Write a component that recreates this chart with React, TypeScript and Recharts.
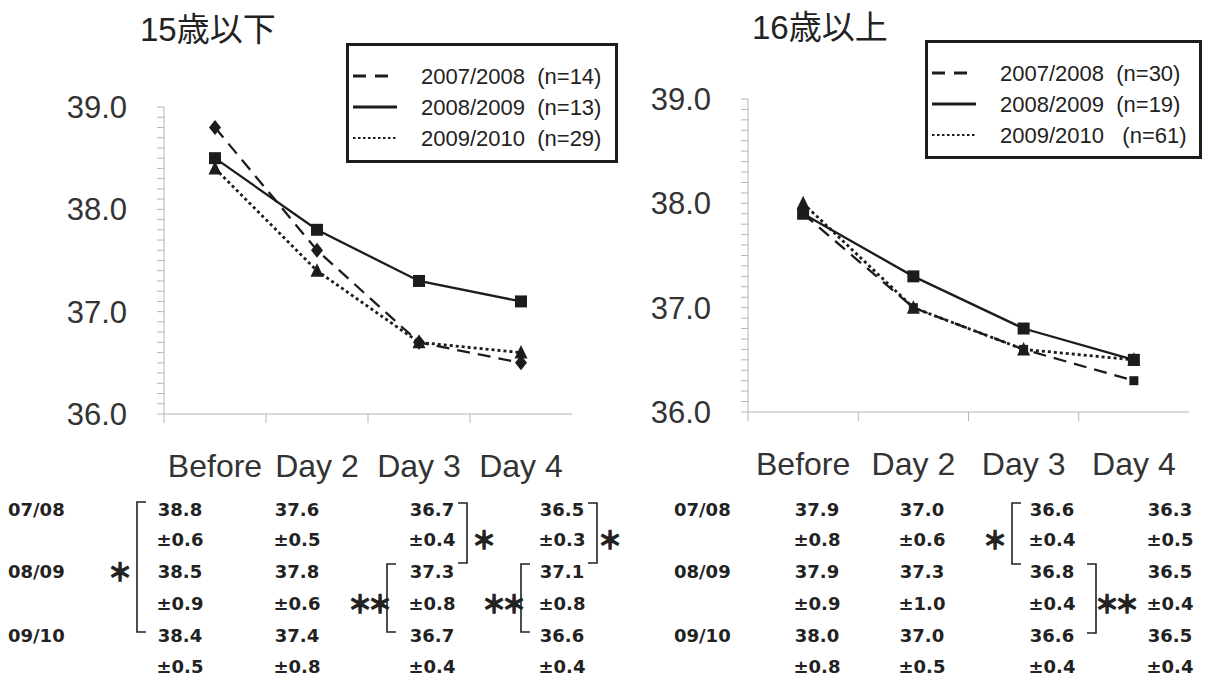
import React from 'react';
import { LineChart, Line, XAxis, YAxis } from 'recharts';

// time points on the x axis
const timepoints = ['Before', 'Day 2', 'Day 3', 'Day 4'];
const seasons = ['2007/2008', '2008/2009', '2009/2010'];
const seasonsShort = ['07/08', '08/09', '09/10'];

// 15歳以下
const under15N = [14, 13, 29];
const under15Mean0708 = [38.8, 37.6, 36.7, 36.5];
const under15Mean0809 = [38.5, 37.8, 37.3, 37.1];
const under15Mean0910 = [38.4, 37.4, 36.7, 36.6];
const under15Sd0708 = [0.6, 0.5, 0.4, 0.3];
const under15Sd0809 = [0.9, 0.6, 0.8, 0.8];
const under15Sd0910 = [0.5, 0.8, 0.4, 0.4];

// 16歳以上
const over16N = [30, 19, 61];
const over16Mean0708 = [37.9, 37.0, 36.6, 36.3];
const over16Mean0809 = [37.9, 37.3, 36.8, 36.5];
const over16Mean0910 = [38.0, 37.0, 36.6, 36.5];
const over16Sd0708 = [0.8, 0.6, 0.4, 0.5];
const over16Sd0809 = [0.9, 1.0, 0.4, 0.4];
const over16Sd0910 = [0.8, 0.5, 0.4, 0.4];

const yMajorTicks = [36, 37, 38, 39];
const yMinorTicks = Array.from({ length: 31 }, (_, i) => 36 + i / 10);

const FONT = 'Arial, "Liberation Sans", "Noto Sans CJK JP", sans-serif';
const TABLE_FONT = '"DejaVu Sans", Arial, sans-serif';
const INK = '#1c1c1c';

const keys = ['s0708', 's0809', 's0910'];
const dashes = ['13 8', undefined, '3 3'];
const widths = [2.3, 2.3, 2.8];

function buildRows(means: number[][]) {
  return timepoints.map((t, i) => ({
    t,
    s0708: means[0][i],
    s0809: means[1][i],
    s0910: means[2][i],
  }));
}

function marker(kind: string, size: number) {
  return (p: any) => {
    const { cx, cy, index } = p;
    if (cx == null || cy == null) return <g key={`m${index}`} />;
    const h = size / 2;
    let d = '';
    if (kind === 'diamond') d = `M${cx},${cy - h - 1.5} L${cx + h},${cy} L${cx},${cy + h + 1.5} L${cx - h},${cy} Z`;
    else if (kind === 'square') d = `M${cx - h},${cy - h} H${cx + h} V${cy + h} H${cx - h} Z`;
    else d = `M${cx},${cy - h - 1.5} L${cx + h + 0.5},${cy + h} H${cx - h - 0.5} Z`;
    return <path key={`m${index}`} d={d} fill={INK} stroke="none" />;
  };
}

const XTick = (props: any) => {
  const { x, y, payload, visibleTicksCount, width } = props;
  const half = payload && payload.offset ? payload.offset : width / visibleTicksCount / 2;
  return (
    <g>
      <line x1={x - half} x2={x - half} y1={y} y2={y + 9} stroke="#b5b5b5" strokeWidth={1} />
      <text x={x} y={y + 52} dy="0.35em" textAnchor="middle" fontSize={32} fill="#333" fontFamily={FONT}>
        {payload.value}
      </text>
    </g>
  );
};

const fmtY = (v: number) => (yMajorTicks.some((m) => Math.abs(m - v) < 1e-6) ? v.toFixed(1) : '');

function TempChart({ data, markers, margin, width, height, xHeight }: any) {
  return (
    <LineChart width={width} height={height} data={data} margin={margin}>
      <XAxis
        dataKey="t"
        scale="band"
        height={xHeight}
        tickSize={0}
        tickMargin={0}
        tickLine={false}
        axisLine={{ stroke: '#b5b5b5' }}
        tick={<XTick />}
        interval={0}
      />
      <YAxis
        type="number"
        domain={[36, 39]}
        ticks={yMinorTicks}
        interval={0}
        width={70}
        tickSize={7}
        tickMargin={30}
        tickFormatter={fmtY}
        tickLine={{ stroke: '#b5b5b5' }}
        axisLine={{ stroke: '#b5b5b5' }}
        tick={{ fontSize: 31, fill: '#333', fontFamily: FONT }}
      />
      {[2, 0, 1].map((s) => (
        <Line
          key={keys[s]}
          dataKey={keys[s]}
          type="linear"
          stroke={INK}
          strokeWidth={widths[s]}
          strokeDasharray={dashes[s]}
          dot={marker(markers[s].kind, markers[s].size)}
          activeDot={false}
          isAnimationActive={false}
        />
      ))}
    </LineChart>
  );
}

function LegendBox({ left, top, width, height, n, gaps }: any) {
  return (
    <div
      style={{
        position: 'absolute',
        left,
        top,
        width,
        height,
        border: `3px solid ${INK}`,
        boxSizing: 'border-box',
        background: '#fff',
      }}
    >
      <svg width={width - 6} height={height - 6} style={{ position: 'absolute', left: 0, top: 0 }}>
        {seasons.map((s, i) => (
          <g key={s}>
            <line
              x1={4}
              x2={48}
              y1={30 + i * 31}
              y2={30 + i * 31}
              stroke={INK}
              strokeWidth={i === 2 ? 2 : 3}
              strokeDasharray={i === 0 ? '13 9' : i === 2 ? '2.5 2.5' : undefined}
            />
            <text x={72} y={30 + i * 31} dy="0.35em" fontSize={22} fill="#222" fontFamily={FONT} style={{ whiteSpace: 'pre' }}>
              {`${s}${gaps[i]}(n=${n[i]})`}
            </text>
          </g>
        ))}
      </svg>
    </div>
  );
}

const rowY = [510, 540, 572, 604, 636, 667];

function Bracket({ x, y1, y2, dir }: any) {
  const t = 9 * dir;
  return <path d={`M${x + t},${y1} H${x} V${y2} H${x + t}`} fill="none" stroke="#222" strokeWidth={1.6} />;
}

function Star({ x, y, text }: any) {
  return (
    <text
      x={x}
      y={y}
      dy="0.38em"
      textAnchor="middle"
      fontSize={24}
      fontWeight={700}
      fill="#222"
      stroke="#222"
      strokeWidth={1.3}
      fontFamily='"Noto Sans CJK JP", sans-serif'
      letterSpacing={-4}
    >
      {text}
    </text>
  );
}

function StatTable({ labelX, colX, means, sds }: any) {
  return (
    <g fontFamily={TABLE_FONT} fontWeight={700} fontSize={18} fill="#222">
      {seasonsShort.map((s, g) => (
        <text key={s} x={labelX} y={rowY[g * 2]} dy="0.36em">
          {s}
        </text>
      ))}
      {means.map((m: number[], g: number) =>
        m.map((v, c) => (
          <g key={`${g}-${c}`}>
            <text x={colX[c]} y={rowY[g * 2]} dy="0.36em" textAnchor="middle">
              {v.toFixed(1)}
            </text>
            <text x={colX[c]} y={rowY[g * 2 + 1]} dy="0.36em" textAnchor="middle">
              {`±${sds[g][c].toFixed(1)}`}
            </text>
          </g>
        ))
      )}
    </g>
  );
}

export default function App() {
  const leftData = buildRows([under15Mean0708, under15Mean0809, under15Mean0910]);
  const rightData = buildRows([over16Mean0708, over16Mean0809, over16Mean0910]);
  const leftMarkers = [
    { kind: 'diamond', size: 12 },
    { kind: 'square', size: 12 },
    { kind: 'triangle', size: 12 },
  ];
  const rightMarkers = [
    { kind: 'square', size: 9 },
    { kind: 'square', size: 12 },
    { kind: 'triangle', size: 12 },
  ];

  return (
    <div style={{ position: 'absolute', left: 0, top: 0, width: 1209, height: 686, background: '#fff', overflow: 'hidden' }}>
      <div style={{ position: 'absolute', left: 0, top: 0 }}>
        <TempChart
          data={leftData}
          markers={leftMarkers}
          width={600}
          height={500}
          xHeight={86}
          margin={{ top: 107, right: 28, left: 94, bottom: 0 }}
        />
      </div>
      <div style={{ position: 'absolute', left: 600, top: 0 }}>
        <TempChart
          data={rightData}
          markers={rightMarkers}
          width={609}
          height={500}
          xHeight={88}
          margin={{ top: 99, right: 20, left: 78, bottom: 0 }}
        />
      </div>

      <div style={{ position: 'absolute', left: 140, top: 11, fontSize: 33, fontFamily: FONT, color: '#222', lineHeight: '38px' }}>
        15歳以下
      </div>
      <div style={{ position: 'absolute', left: 752, top: 9, fontSize: 33, fontFamily: FONT, color: '#222', lineHeight: '38px' }}>
        16歳以上
      </div>

      <LegendBox left={346} top={43} width={272} height={120} n={under15N} gaps={['  ', '  ', '  ']} />
      <LegendBox left={925} top={40} width={277} height={119} n={over16N} gaps={['  ', '  ', '   ']} />

      <svg width={1209} height={686} style={{ position: 'absolute', left: 0, top: 0 }}>
        <StatTable
          labelX={8}
          colX={[180, 297, 432, 562]}
          means={[under15Mean0708, under15Mean0809, under15Mean0910]}
          sds={[under15Sd0708, under15Sd0809, under15Sd0910]}
        />
        <StatTable
          labelX={674}
          colX={[817, 922, 1052, 1170]}
          means={[over16Mean0708, over16Mean0809, over16Mean0910]}
          sds={[over16Sd0708, over16Sd0809, over16Sd0910]}
        />
        {/* significance brackets */}
        <Bracket x={137} y1={rowY[0] - 8} y2={rowY[4] - 4} dir={1} />
        <Star x={118} y={rowY[2]} text="＊" />
        <Bracket x={467} y1={rowY[0] - 7} y2={rowY[2] - 9} dir={-1} />
        <Star x={482} y={rowY[1]} text="＊" />
        <Bracket x={387} y1={rowY[2] - 8} y2={rowY[4] - 4} dir={1} />
        <Star x={368} y={rowY[3]} text="＊＊" />
        <Bracket x={597} y1={rowY[0] - 7} y2={rowY[2] - 9} dir={-1} />
        <Star x={608} y={rowY[1]} text="＊" />
        <Bracket x={521} y1={rowY[2] - 8} y2={rowY[4] - 4} dir={1} />
        <Star x={502} y={rowY[3]} text="＊＊" />
        <Bracket x={1012} y1={rowY[0] - 7} y2={rowY[2] - 8} dir={1} />
        <Star x={993} y={rowY[1]} text="＊" />
        <Bracket x={1096} y1={rowY[2] - 8} y2={rowY[4] - 3} dir={-1} />
        <Star x={1115} y={rowY[3]} text="＊＊" />
      </svg>
    </div>
  );
}
